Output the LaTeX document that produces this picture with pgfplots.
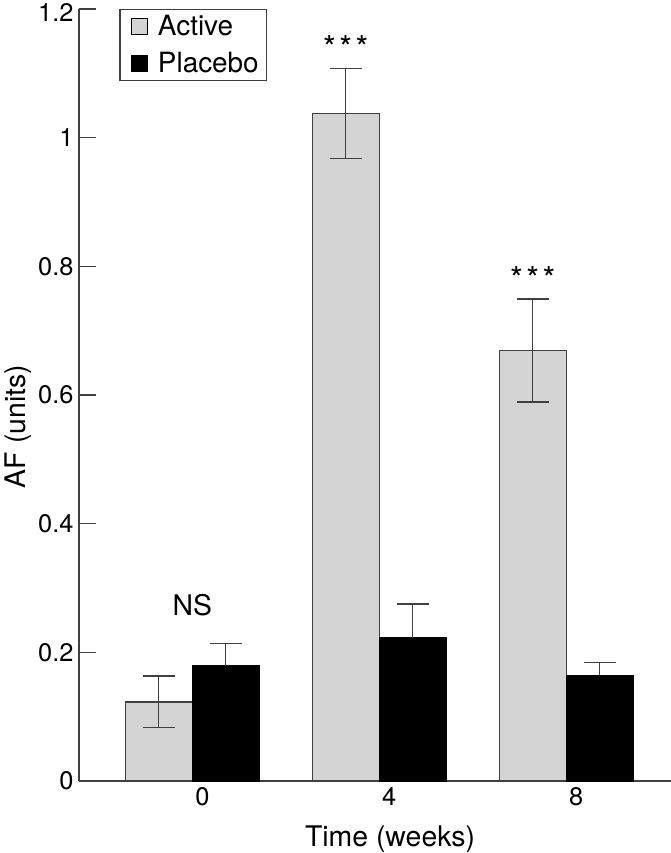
\documentclass[border=0pt]{standalone}
\usepackage{fontspec}
\setmainfont{TeX Gyre Heros}
\usepackage{pgfplots}
\pgfplotsset{compat=1.18}
\definecolor{activegray}{RGB}{212,212,212}
\definecolor{edgegray}{RGB}{64,64,64}
\newcommand{\chartfont}{\fontsize{28.5}{34}\selectfont}
\newcommand{\tickfont}{\fontsize{25.5}{30}\selectfont}
\newcommand{\stars}{\fontsize{33}{38}\selectfont *\hspace{3.5bp}*\hspace{3.5bp}*}

\begin{document}
\begin{tikzpicture}
\begin{axis}[
  scale only axis,
  width=592bp, height=772bp,
  xmin=-0.606, xmax=2.56,
  ymin=0, ymax=1.2,
  axis x line*=bottom,
  axis y line*=left,
  axis line style={edgegray, line width=1.3bp},
  tick align=inside,
  major tick length=17bp,
  ytick={0,0.2,0.4,0.6,0.8,1,1.2},
  yticklabels={0,0.2,0.4,0.6,0.8,1,\raisebox{-4bp}[\height][0pt]{1.2}},
  ytick style={edgegray, line width=1.3bp},
  xtick={0,1,2},
  xticklabels={0,4,8},
  xtick style={draw=none},
  ticklabel style={font=\tickfont},
  yticklabel style={xshift=-2bp},
  xticklabel style={xshift=10bp, yshift=-3bp},
  label style={font=\chartfont},
  xlabel={Time (weeks)},
  ylabel={AF (units)},
  xlabel style={xshift=15bp, yshift=-13bp},
  ylabel style={at={(ticklabel cs:0.459)}},
  legend style={at={(0.068,1)}, anchor=north west, draw=edgegray,
    line width=1.3bp, font=\fontsize{28}{33}\selectfont,
    inner xsep=3bp, inner ysep=3bp,
    nodes={inner xsep=5bp, inner ysep=3bp}, row sep=9bp, column sep=5bp},
  legend image code/.code={
    \path (0bp,0bp);
    \draw[#1, draw=black, line width=0.8bp] (8bp,-8bp) rectangle (24bp,8bp);},
  legend cell align=left,
]
\addplot[ybar, bar width=0.358, bar shift=0pt, fill=activegray, draw=edgegray,
  line width=1.3bp,
  error bars/.cd, y dir=both, y explicit,
  error bar style={line width=1.3bp, edgegray},
  error mark options={rotate=90, mark size=16bp, line width=1.3bp, edgegray}]
  coordinates {
    (-0.179,0.123) +- (0,0.040)
    (0.821,1.038)  +- (0,0.070)
    (1.821,0.669)  +- (0,0.080)
  };
\addlegendentry{Active}
\addplot[ybar, bar width=0.358, bar shift=0pt, fill=black, draw=black,
  line width=1.3bp,
  error bars/.cd, y dir=plus, y explicit,
  error bar style={line width=1.3bp, edgegray},
  error mark options={rotate=90, mark size=16bp, line width=1.3bp, edgegray}]
  coordinates {
    (0.179,0.179) +- (0,0.035)
    (1.179,0.223) +- (0,0.052)
    (2.179,0.164) +- (0,0.020)
  };
\addlegendentry{Placebo}
\node[font=\chartfont, anchor=base] at (axis cs:0,0.258) {NS};
\node[anchor=base] at (axis cs:0.821,1.121) {\stars};
\node[anchor=base] at (axis cs:1.821,0.762) {\stars};
\end{axis}
\pgfresetboundingbox
\path (current axis.south west) ++(-79bp,-72bp) rectangle ++(671bp,853bp);
\end{tikzpicture}
\end{document}
